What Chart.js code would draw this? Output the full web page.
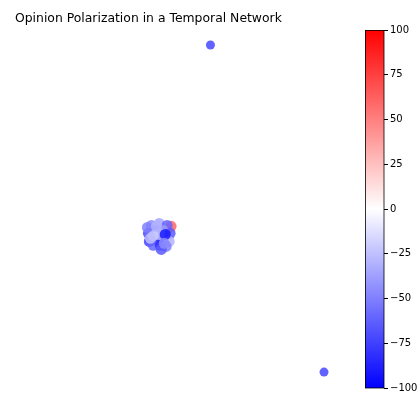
<!DOCTYPE html>
<html>
<head>
<meta charset="utf-8">
<script src="https://cdn.jsdelivr.net/npm/chart.js@4.4.0/dist/chart.umd.min.js"></script>
<style>
  html, body { margin: 0; padding: 0; background: #fff; }
  #wrap { width: 419px; height: 396px; }
</style>
</head>
<body>
<div id="wrap"><canvas id="netChart"></canvas></div>
<script>
// node layout (spring-layout style coordinates) and opinions
const nodeX = [0.083, 0.683,
  -0.125,
  -0.229, -0.1875, -0.146, -0.245, -0.208, -0.167, -0.130, -0.240, -0.203, -0.167,
  -0.135, -0.219, -0.182, -0.151, -0.1875, -0.219, -0.156, -0.250, -0.177,
  -0.203, -0.234, -0.161];
const nodeY = [0.916, -0.911,
  -0.097,
  -0.092, -0.081, -0.092, -0.136, -0.120, -0.120, -0.136, -0.181, -0.170, -0.164,
  -0.181, -0.203, -0.203, -0.209, -0.142, -0.148, -0.142, -0.103, -0.226,
  -0.097, -0.164, -0.192];
const opinions = [-72, -72,
  60,
  -45, -35, -60, -70, -55, -40, -65, -75, -85, -70,
  -30, -60, -80, -50, -30, -20, -90, -50, -65,
  -30, -25, -45];
// edges as node index pairs
const edges = [[2, 9], [2, 5], [5, 9], [7, 8], [10, 14], [13, 16], [11, 15], [4, 22], [6, 20], [12, 24]];
const cbTicks = [-100, -75, -50, -25, 0, 25, 50, 75, 100];

// matplotlib "bwr" colormap
function bwr(v, a) {
  const t = (v + 100) / 200;
  let r, g, b;
  if (t < 0.5) { r = g = 2 * t; b = 1; }
  else { r = 1; g = b = 2 * (1 - t); }
  return `rgba(${Math.round(r * 255)},${Math.round(g * 255)},${Math.round(b * 255)},${a})`;
}

const points = nodeX.map((x, i) => ({ x: x, y: nodeY[i] }));

const edgePlugin = {
  id: "edges",
  beforeDatasetsDraw(chart) {
    const { ctx, scales } = chart;
    ctx.save();
    ctx.strokeStyle = "rgba(0,0,0,0.7)";
    ctx.lineWidth = 1;
    edges.forEach(([a, b]) => {
      ctx.beginPath();
      ctx.moveTo(scales.x.getPixelForValue(nodeX[a]), scales.y.getPixelForValue(nodeY[a]));
      ctx.lineTo(scales.x.getPixelForValue(nodeX[b]), scales.y.getPixelForValue(nodeY[b]));
      ctx.stroke();
    });
    ctx.restore();
  }
};

// colorbar gradient + title
const colorbarPlugin = {
  id: "colorbar",
  afterDraw(chart) {
    const { ctx } = chart;
    const cb = chart.scales.cb;
    const top = cb.getPixelForValue(100), bottom = cb.getPixelForValue(-100);
    const right = cb.left, left = right - 19;
    const grad = ctx.createLinearGradient(0, bottom, 0, top);
    for (let i = 0; i <= 20; i++) {
      grad.addColorStop(i / 20, bwr(-100 + i * 10, 1));
    }
    ctx.save();
    ctx.fillStyle = grad;
    ctx.fillRect(left, top, right - left, bottom - top);
    ctx.strokeStyle = "#000";
    ctx.lineWidth = 0.8;
    ctx.strokeRect(left + 0.5, top + 0.5, right - left - 0.5, bottom - top - 0.5);
    ctx.fillStyle = "#000";
    ctx.font = "12.4px 'DejaVu Sans'";
    ctx.textBaseline = "middle";
    ctx.fillText("Opinion Polarization in a Temporal Network", 15, 19);
    ctx.restore();
  }
};

new Chart(document.getElementById("netChart"), {
  type: "scatter",
  data: {
    datasets: [{
      data: points,
      pointRadius: opinions.map((v, i) => (i < 2 ? 4.5 : 5.5)),
      pointHoverRadius: 5.5,
      pointBorderWidth: 0,
      pointBackgroundColor: opinions.map(v => bwr(v, 0.85))
    }]
  },
  options: {
    responsive: true,
    maintainAspectRatio: false,
    animation: false,
    layout: { padding: { top: 30, bottom: 6, left: 0, right: 0 } },
    plugins: { legend: { display: false }, tooltip: { enabled: false } },
    scales: {
      x: { type: "linear", min: -1, max: 1, display: false },
      y: { type: "linear", min: -1, max: 1, display: false },
      cb: {
        type: "linear",
        position: "right",
        min: -100,
        max: 100,
        afterFit(scale) { scale.width = 35; },
        afterBuildTicks(scale) { scale.ticks = cbTicks.map(v => ({ value: v })); },
        grid: { drawOnChartArea: false, drawTicks: true, tickLength: 4, tickColor: "#000", color: "#000" },
        border: { display: false },
        ticks: {
          color: "#000",
          padding: 2,
          font: { family: "DejaVu Sans", size: 10 },
          callback: v => String(v).replace("-", "\u2212")
        }
      }
    }
  },
  plugins: [edgePlugin, colorbarPlugin]
});
</script>
</body>
</html>
